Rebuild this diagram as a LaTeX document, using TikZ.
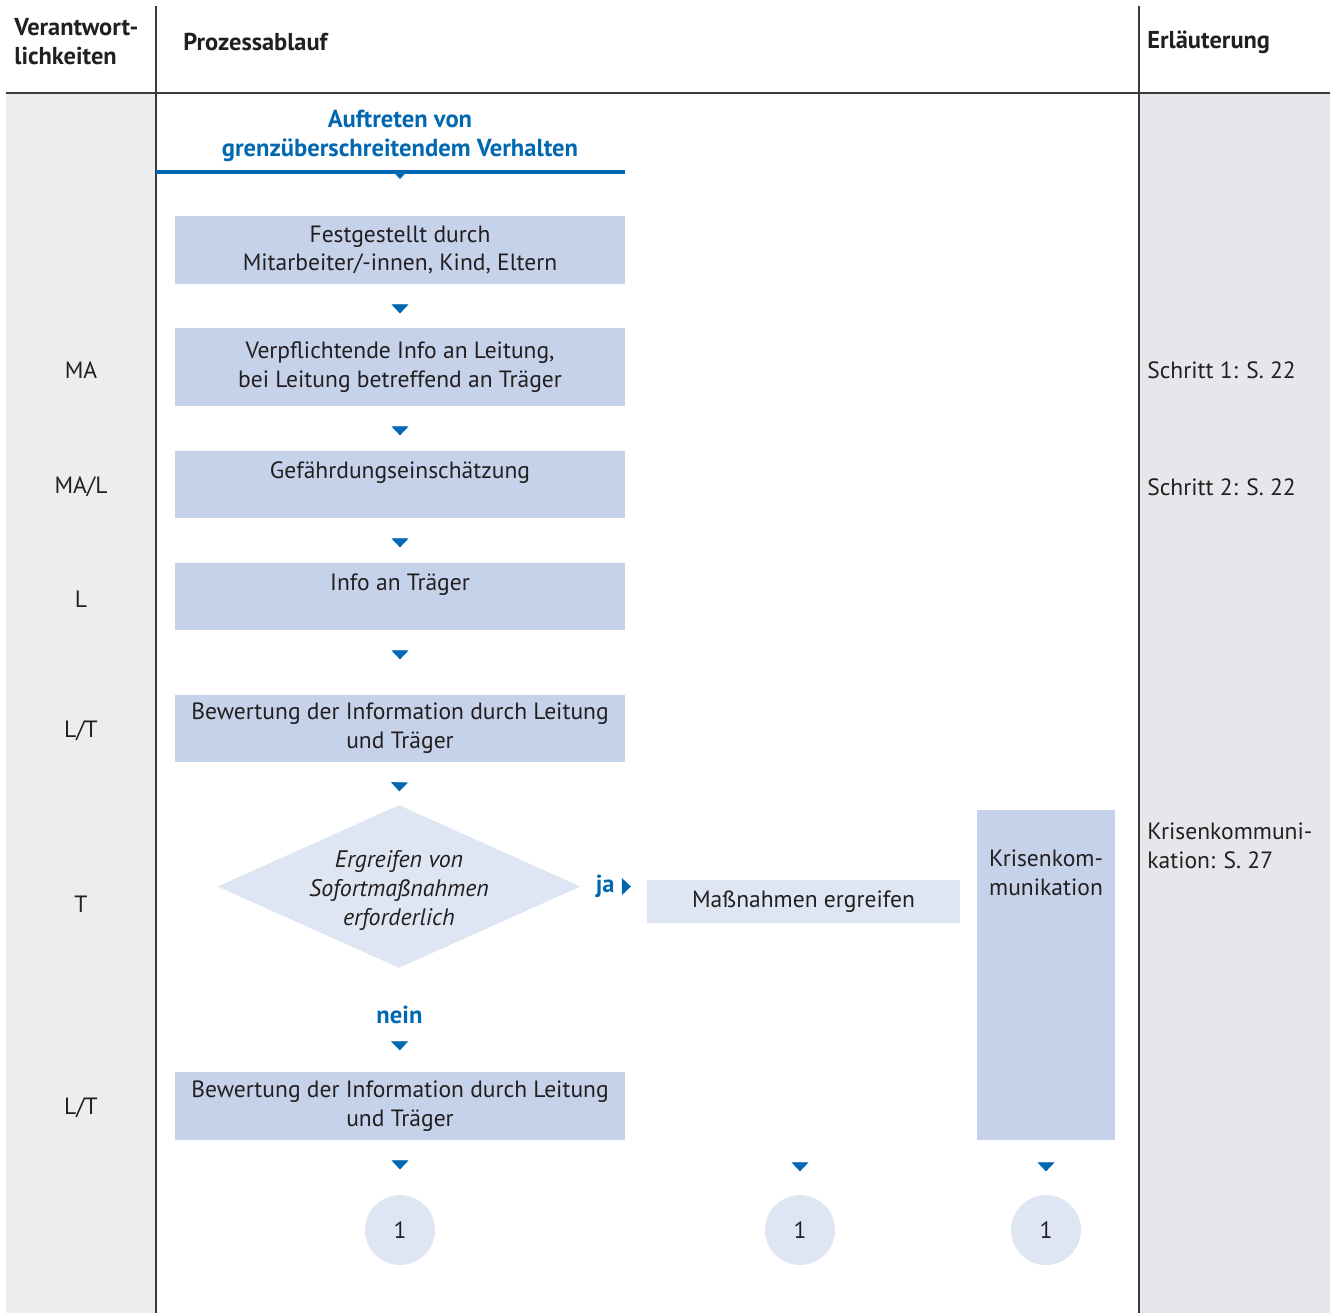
\documentclass[tikz,border=0pt]{standalone}
\usepackage{fontspec}
\setmainfont{PT Sans}
\usetikzlibrary{positioning,shapes.geometric,arrows.meta,decorations.markings}

\definecolor{ink}{HTML}{231F20}
\definecolor{rulegray}{HTML}{3A3A3A}
\definecolor{flowblue}{HTML}{0067B1}
\definecolor{boxblue}{HTML}{C6D2EA}
\definecolor{paleblue}{HTML}{DFE6F3}
\definecolor{leftgray}{HTML}{EDEDED}
\definecolor{rightgray}{HTML}{E6E7EA}

\begin{document}
\begin{tikzpicture}[%
        x=0.02cm, y=-0.02cm,
        inner sep=0pt,
        text=ink,
        node font=\fontsize{13.4}{16.5}\selectfont,
        header/.style={%
            anchor=west, align=left,
            node font=\fontsize{13.9}{16.5}\selectfont\bfseries,
        },
        note/.style={%
            anchor=west, align=left,
        },
        stepbox/.style={%
            fill=boxblue, minimum width=9cm, align=center,
        },
        decision/.style={%
            diamond, fill=paleblue, minimum width=7.26cm, minimum height=3.26cm,
        },
        jump/.style={%
            circle, fill=paleblue, minimum size=1.4cm,
        },
        answer/.style={%
            text=flowblue, align=center,
            node font=\fontsize{14}{16.5}\selectfont\bfseries,
        },
        flow/.style={%
            color=flowblue, postaction={decorate},
            decoration={markings, mark=at position #1 with {\arrow{Triangle[width=0.34cm,length=0.18cm]}}},
        },
        flow/.default=0.58cm,
        smallflow/.style={%
            color=flowblue, postaction={decorate},
            decoration={markings, mark=at position 0.14cm with {\arrow{Triangle[width=0.22cm,length=0.12cm]}}},
        },
    ]

    \useasboundingbox (0,0) rectangle (1335,1313);

    % columns
    \fill [leftgray] (6,93) rectangle (156,1313);
    \fill [rightgray] (1139,93) rectangle (1330,1313);
    \draw [rulegray, line width=0.03cm] (6,93) -- (1330,93);
    \foreach \x in {156,1139} {%
        \draw [rulegray, line width=0.03cm] (\x,6) -- (\x,1313);
    }

    \node (resp_head) at (14,42) [header] {Verantwort-\\lichkeiten};
    \node (process_head) at (183,42) [header] {Prozessablauf};
    \node (notes_head) at (1147,42) [header] {Erläuterung};

    \foreach \y/\r in {370/MA, 487/{MA/L}, 599/L, 731/{L/T}, 904/T, 1108/{L/T}} {%
        \node (role_\y) at (81,\y) {\r};
    }

    \node (step1_note) at (1147,370) [note] {Schritt 1: S. 22};
    \node (step2_note) at (1147,487) [note] {Schritt 2: S. 22};
    \node (crisis_note) at (1147,846) [note] {Krisenkommuni-\\kation: S. 27};

    % process
    \node (start_title) at (400,136) [answer] {Auftreten von\\grenzüberschreitendem Verhalten};
    \coordinate (rule_west) at (156,172);
    \coordinate (rule_east) at (625,172);
    \coordinate (rule_mid) at (400,172);
    \draw [flowblue, line width=0.08cm] (rule_west) -- (rule_east);

    \node (found_box) at (400,250) [stepbox, minimum height=1.36cm] {Festgestellt durch\\Mitarbeiter/-innen, Kind, Eltern};
    \node (inform_box) at (400,367) [stepbox, minimum height=1.56cm] {Verpflichtende Info an Leitung,\\bei Leitung betreffend an Träger};
    \node (risk_box) at (400,484.5) [stepbox, minimum height=1.34cm] {Gefährdungseinschätzung\\\mbox{}};
    \node (carrier_box) at (400,596.5) [stepbox, minimum height=1.34cm] {Info an Träger\\\mbox{}};
    \node (review_box) at (400,728.5) [stepbox, minimum height=1.34cm] {Bewertung der Information durch Leitung\\und Träger};

    \node (urgent_diamond) at (399,886.5) [decision] {};
    \node (urgent_text) at (399,890) [align=center, node font=\fontsize{13.6}{16.5}\selectfont\itshape] {Ergreifen von\\Sofortmaßnahmen\\erforderlich};

    \node (measures_box) at (803.5,901.5) [fill=paleblue, minimum width=6.26cm, minimum height=0.86cm] {Maßnahmen ergreifen};
    \node (crisis_box) at (1046,975) [fill=boxblue, minimum width=2.76cm, minimum height=6.6cm,
        label={[anchor=north, yshift=-0.8cm, align=center]north:{Krisenkom-\\munikation}}] {};

    \node (second_review_box) at (400,1106) [stepbox, minimum height=1.36cm] {Bewertung der Information durch Leitung\\und Träger};

    \node (jump_left) at (400,1230) [jump] {1};
    \node (jump_mid) at (800,1230) [jump] {1};
    \node (jump_right) at (1046,1230) [jump] {1};

    % connectors
    \path [smallflow] (rule_mid) -- (found_box.north);
    \path [flow] (found_box.south) -- (inform_box.north);
    \path [flow] (inform_box.south) -- (risk_box.north);
    \path [flow] (risk_box.south) -- (carrier_box.north);
    \path [flow] (carrier_box.south) -- (review_box.north);
    \path [flow] (review_box.south) -- (urgent_diamond.north);
    \path [flow=1.0cm] (urgent_diamond.east) -- node [answer, pos=0.37] {ja} (urgent_diamond.east -| measures_box.west);
    \path [flow=1.64cm] (urgent_diamond.south) -- node [answer, pos=0.45] {nein} (second_review_box.north);
    \path [flow] (second_review_box.south) -- (jump_left.north);
    \path [flow=4.96cm] (measures_box.south -| jump_mid.north) -- (jump_mid.north);
    \path [flow=0.62cm] (crisis_box.south) -- (jump_right.north);
\end{tikzpicture}
\end{document}
